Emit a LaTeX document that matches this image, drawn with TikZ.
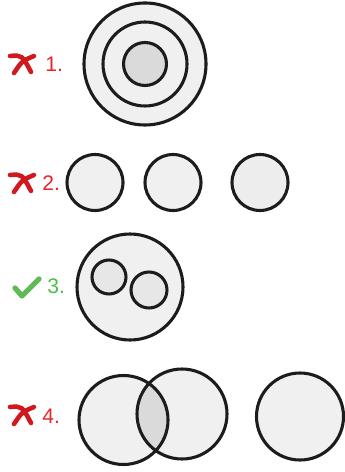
\documentclass[tikz,border=0pt]{standalone}
\usepackage{fontspec}
\setmainfont{Liberation Sans}
\usepackage{xcolor,tikz}
\usetikzlibrary{positioning,calc}
\definecolor{optRed}{HTML}{E8272C}
\definecolor{optMark}{HTML}{D0181E}
\definecolor{optGreen}{HTML}{4CC04A}
\definecolor{optTick}{HTML}{62B957}
\definecolor{ringLine}{HTML}{1C1C1C}
\definecolor{ringFill}{HTML}{F0F0F0}
\definecolor{ringDark}{HTML}{DADADA}

\begin{document}
\begin{tikzpicture}[x=0.02cm, y=-0.02cm]

% --- PARAMETERS ---
\def\lw{1.75pt}             % circle outline
\tikzset{
  ring/.style={draw=ringLine, line width=\lw, fill=ringFill},
  core/.style={draw=ringLine, line width=\lw, fill=ringDark},
  numlbl/.style={anchor=west, inner sep=0pt, font=\fontsize{12}{14}\selectfont},
  wrongmark/.style={optMark, line width=2.6pt, line cap=round},
  rightmark/.style={optTick, line width=3pt, line cap=round, line join=round}
}

\useasboundingbox[fill=white] (0,0) rectangle (344,472);

% --- ROW 1: NESTED RINGS ---
\draw[ring] (145,64) circle (61);
\draw[ring] (145,64) circle (42);
\draw[core] (145,64) circle (21.5);

% --- ROW 2: THREE SEPARATE ---
\foreach \cx in {95,173} {
  \draw[ring] (\cx,182.5) circle (28);
}
\draw[ring, fill=ringFill!85!ringDark] (260,182.5) circle (28);

% --- ROW 3: TWO INSIDE ONE ---
\draw[ring] (130,287) circle (53);
\draw[ring, fill=ringFill!60!ringDark] (109,277) circle (17);
\draw[ring, fill=ringFill!60!ringDark] (149,290) circle (18);

% --- ROW 4: OVERLAP + ONE APART ---
\fill[ringFill] (123.5,420) circle (44.5);
\fill[ringFill] (182,414) circle (45);
\begin{scope}
  \clip (123.5,420) circle (44.5);
  \fill[ringDark] (182,414) circle (45);
\end{scope}
\draw[ringLine, line width=\lw] (123.5,420) circle (44.5);
\draw[ringLine, line width=\lw] (182,414) circle (45);
\draw[ring] (300,416.5) circle (43.5);

% --- NUMBER LABELS ---
\node[numlbl, color=optRed]   (lbl1) at (45,64)  {1.};
\node[numlbl, color=optRed]   (lbl2) at (42,183) {2.};
\node[numlbl, color=optGreen] (lbl3) at (47,286) {3.};
\node[numlbl, color=optRed]   (lbl4) at (42,416) {4.};

% --- MARKS ---
\foreach \my in {64,183,415} {
  \draw[wrongmark] (10,\my-8) .. controls (22,\my-9) .. (31,\my+8);
  \draw[wrongmark] (14,\my+9) .. controls (22,\my-3) .. (34,\my-8);
}
\draw[rightmark] (15,288) -- (22,296) -- (39,279);

\end{tikzpicture}
\end{document}
